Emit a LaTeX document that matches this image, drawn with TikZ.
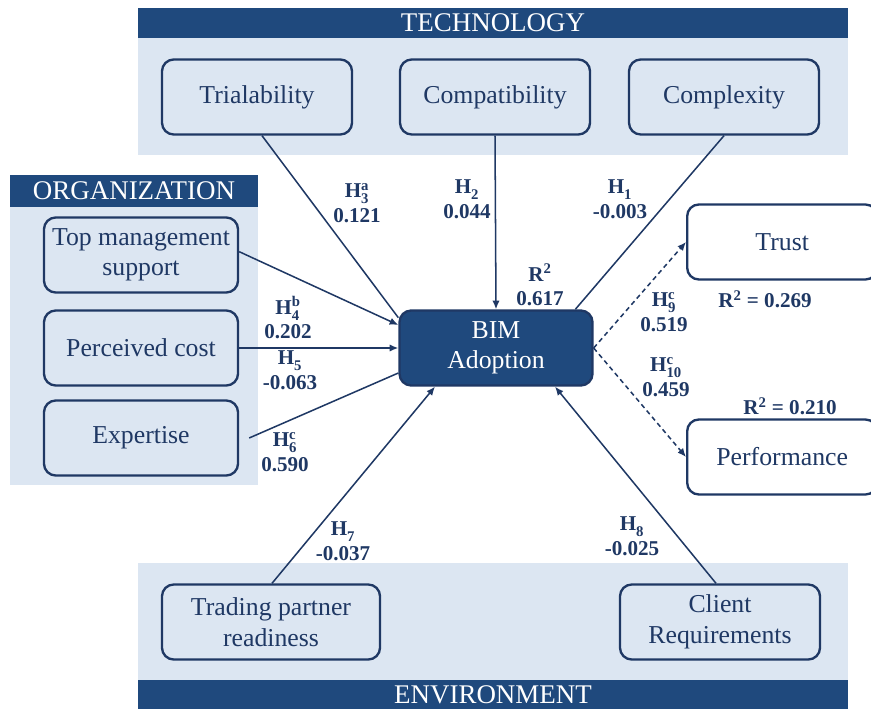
\documentclass[tikz,border=0pt]{standalone}
\usepackage{amsmath}
\usepackage{fontspec}
\setmainfont{Liberation Serif}
\usepackage{xcolor}
\definecolor{navy}{RGB}{31,56,100}
\definecolor{barblue}{RGB}{31,73,125}
\definecolor{zoneblue}{RGB}{220,230,242}
\newcommand{\hyp}[2]{\textbf{H}$^{\textbf{#2}}_{\textbf{#1}}$}
\newcommand{\rsq}{\textbf{R}$^{\textbf{2}}$}
\usetikzlibrary{arrows.meta}

\begin{document}
\begin{tikzpicture}[
  x=0.03cm, y=-0.03cm,
  font=\fontsize{22}{26}\selectfont,
  zone/.style={fill=zoneblue, inner sep=0pt},
  bar/.style={fill=barblue, text=white, inner sep=0pt, align=center, font=\fontsize{23}{26}\selectfont},
  box/.style={draw=navy, line width=2pt, rounded corners=10pt, align=center, text=navy, fill=zoneblue, inner sep=2pt, minimum width=5.7cm, minimum height=2.25cm},
  outbox/.style={box, fill=white},
  core/.style={box, fill=barblue, text=white},
  lbl/.style={font=\fontsize{18}{21}\selectfont\bfseries, text=navy, align=center, inner sep=1pt},
  arr/.style={-{Latex[length=2.6mm,width=2.2mm]}, navy, line width=1.3pt},
  lnk/.style={navy, line width=1.3pt},
  darr/.style={arr, dashed, dash pattern=on 4pt off 3pt},
]
\useasboundingbox (0,0) rectangle (871,709);

% --- zones and banners -----------------------------------------------------
\node[zone, minimum width=21.3cm, minimum height=3.51cm] (techzone) at (493,96.5) {};
\node[bar, minimum width=21.3cm, minimum height=0.9cm] (techbar) at (493,23) {TECHNOLOGY};
\node[zone, minimum width=7.44cm, minimum height=8.34cm] (orgzone) at (134,346) {};
\node[bar, minimum width=7.44cm, minimum height=0.96cm] (orgbar) at (134,191) {ORGANIZATION};
\node[zone, minimum width=21.3cm, minimum height=3.51cm] (envzone) at (493,621.5) {};
\node[bar, minimum width=21.3cm, minimum height=0.87cm] (envbar) at (493,694.5) {ENVIRONMENT};

% --- technology ------------------------------------------------------------
\node[box] (trial) at (257,97) {Trialability};
\node[box] (compat) at (495,97) {Compatibility};
\node[box] (complex) at (724,97) {Complexity};

% --- organization ----------------------------------------------------------
\node[box, minimum width=5.82cm] (topmgmt) at (141,255) {Top management\\support};
\node[box, minimum width=5.82cm] (cost) at (141,348) {Perceived cost};
\node[box, minimum width=5.82cm] (expert) at (141,438) {Expertise};

% --- environment -----------------------------------------------------------
\node[box, minimum width=6.54cm] (trading) at (271,622) {Trading partner\\readiness};
\node[box, minimum width=6cm] (client) at (720,622) {Client\\Requirements};

% --- centre and outcomes ---------------------------------------------------
\node[core, minimum width=5.79cm] (bim) at (496,348) {BIM\\Adoption};
\node[outbox, anchor=west] (trust) at (686,242) {Trust};
\node[outbox, anchor=west] (perf) at (686,457) {Performance};

% --- arrows ----------------------------------------------------------------
\draw[lnk] ([xshift=0.15cm]trial.south) -- ([yshift=-0.25cm]bim.north west);
\draw[arr] (compat.south) -- (bim.north);
\draw[lnk] (complex.south) -- ([xshift=-0.55cm]bim.north east);
\draw[arr] ([yshift=0.1cm]topmgmt.east) -- ([yshift=0.69cm]bim.west);
\draw[arr] (cost.east) -- (bim.west);
\draw[lnk] ([xshift=0.3cm]expert.east) -- ([yshift=-0.75cm]bim.west);
\draw[arr] ([xshift=0.03cm]trading.north) -- ([xshift=-1.83cm]bim.south);
\draw[arr] ([xshift=-0.12cm]client.north) -- ([xshift=1.77cm]bim.south);
\draw[darr] (bim.east) -- (trust.west);
\draw[darr] (bim.east) -- (perf.west);

% --- path labels -----------------------------------------------------------
\node[lbl] (lh3) at (357,203) {\hyp{3}{a}\\0.121};
\node[lbl] (lh2) at (467,199) {\hyp{2}{}\\0.044};
\node[lbl] (lh1) at (620,199) {\hyp{1}{}\\-0.003};
\node[lbl] (lr) at (540,285) {\rsq\\0.617};
\node[lbl] (lh4) at (288,318) {\hyp{4}{b}\\0.202};
\node[lbl] (lh5) at (290,370) {\hyp{5}{}\\-0.063};
\node[lbl] (lh6) at (285,452) {\hyp{6}{c}\\0.590};
\node[lbl] (lh9) at (664,312) {\hyp{9}{c}\\0.519};
\node[lbl] (lh10) at (666,377) {\hyp{10}{c}\\0.459};
\node[lbl] (lrt) at (765,299) {\rsq{} = 0.269};
\node[lbl] (lrp) at (790,406) {\rsq{} = 0.210};
\node[lbl] (lh7) at (343,541) {\hyp{7}{}\\-0.037};
\node[lbl] (lh8) at (632,536) {\hyp{8}{}\\-0.025};
\end{tikzpicture}
\end{document}
